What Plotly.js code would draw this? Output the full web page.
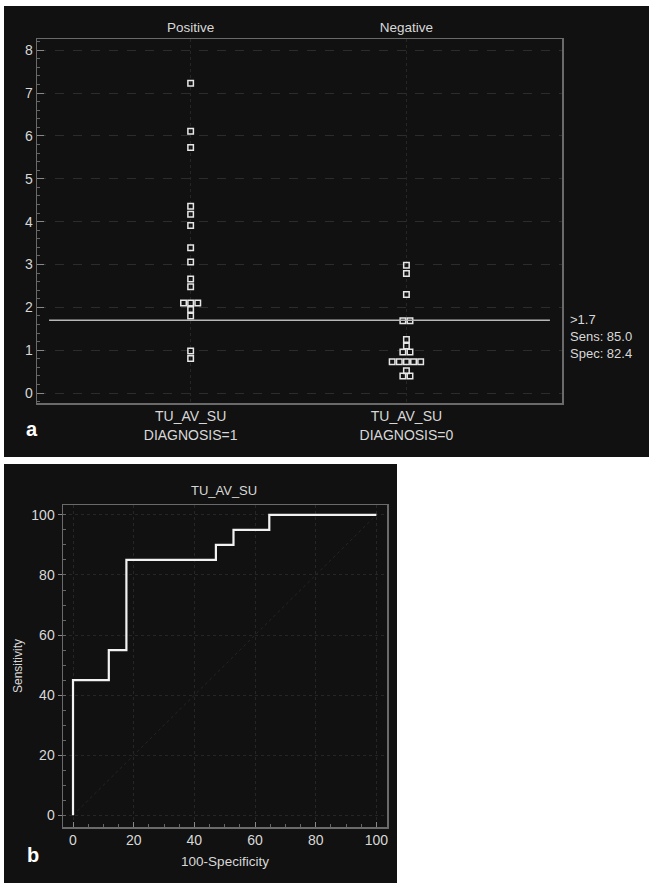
<!DOCTYPE html>
<html>
<head>
<meta charset="utf-8">
<script src="https://cdn.plot.ly/plotly-3.0.1.min.js"></script>
<style>
  html, body { margin: 0; padding: 0; background: #ffffff; width: 649px; height: 883px; overflow: hidden; }
  #dot { position: absolute; left: 4px; top: 6px; width: 645px; height: 451px; }
  #roc { position: absolute; left: 4px; top: 464px; width: 393px; height: 419px; }
</style>
</head>
<body>
<div id="dot"></div>
<div id="roc"></div>
<script>
// ---------- data: panel a (dot plot) ----------
const groupNames = ['Positive', 'Negative'];
const groupAxisLabels = ['TU_AV_SU<br>DIAGNOSIS=1', 'TU_AV_SU<br>DIAGNOSIS=0'];
const positiveValues = [7.23, 6.11, 5.73, 4.36, 4.17, 3.91, 3.39, 3.06, 2.66, 2.48, 2.10, 2.10, 2.10, 1.95, 1.80, 0.98, 0.81];
const negativeValues = [2.98, 2.79, 2.30, 1.69, 1.69, 1.25, 1.10, 0.96, 0.96, 0.73, 0.73, 0.73, 0.73, 0.73, 0.52, 0.40, 0.40];
const yTicks = [0, 1, 2, 3, 4, 5, 6, 7, 8];
const cutoffValue = 1.7;
const cutoffLabel = '>1.7';
const sensitivityAtCutoff = 85.0;
const specificityAtCutoff = 82.4;

// ---------- data: panel b (ROC curve) ----------
const rocTitle = 'TU_AV_SU';
const rocFalsePositive = [0, 0, 11.8, 17.6, 47.1, 52.9, 64.7, 100];   // 100-Specificity
const rocSensitivity   = [0, 45, 55, 85, 90, 95, 100, 100];
const rocTicks = [0, 20, 40, 60, 80, 100];

// ---------- styling ----------
const BG = '#111111';
const FG = '#d8d8d8';
const FRAME = '#6a6a6a';
const GRID = '#2c2c2c';
const FONT = 'Liberation Sans, Arial, sans-serif';
const STEP = 0.033; // horizontal spacing between tied markers (x units)

// spread tied values symmetrically around their group position
function spread(values, center) {
  const counts = {};
  values.forEach(v => { counts[v] = (counts[v] || 0) + 1; });
  const seen = {};
  return values.map(v => {
    const n = counts[v];
    const i = seen[v] || 0;
    seen[v] = i + 1;
    return center + (i - (n - 1) / 2) * STEP;
  });
}

const markerStyle = { symbol: 'square-open', size: 5.5, color: '#e6e6e6', line: { width: 1.5, color: '#e6e6e6' } };

const dotTraces = [
  { x: spread(positiveValues, 0), y: positiveValues, type: 'scatter', mode: 'markers', marker: markerStyle, hoverinfo: 'y', name: groupNames[0] },
  { x: spread(negativeValues, 1), y: negativeValues, type: 'scatter', mode: 'markers', marker: markerStyle, hoverinfo: 'y', name: groupNames[1] },
  { x: [], y: [], xaxis: 'x2', type: 'scatter', mode: 'markers', hoverinfo: 'skip', showlegend: false }
];

const xRange = [-0.712, 1.721];
const dotLayout = {
  width: 645, height: 451,
  paper_bgcolor: BG, plot_bgcolor: BG,
  showlegend: false,
  margin: { l: 33, r: 87, t: 33, b: 54 },
  font: { family: FONT, color: FG, size: 13 },
  xaxis: {
    range: xRange, tickvals: [0, 1], ticktext: groupAxisLabels,
    showline: true, linecolor: FRAME, linewidth: 1.5, mirror: false,
    ticks: '', showgrid: true, gridcolor: '#262626', griddash: 'dot', gridwidth: 1,
    zeroline: false, tickfont: { size: 14, color: FG }, fixedrange: true
  },
  xaxis2: {
    overlaying: 'x', side: 'top', range: xRange, tickvals: [0, 1], ticktext: groupNames,
    showline: true, linecolor: FRAME, linewidth: 1.5, ticks: '', showgrid: false, zeroline: false,
    tickfont: { size: 13.5, color: FG }, fixedrange: true
  },
  yaxis: {
    range: [-0.23, 8.26], tickvals: yTicks,
    showline: true, linecolor: FRAME, linewidth: 1.5, mirror: true,
    ticks: 'inside', ticklen: 7, tickcolor: '#888', tickwidth: 1,
    minor: { dtick: 0.2, ticks: 'inside', ticklen: 3, tickcolor: '#666', showgrid: false },
    showgrid: true, gridcolor: GRID, griddash: 'dash', gridwidth: 1,
    zeroline: false, tickfont: { size: 14, color: FG }, fixedrange: true
  },
  shapes: [
    { type: 'line', xref: 'paper', yref: 'y', x0: 0.023, x1: 0.977, y0: cutoffValue, y1: cutoffValue,
      line: { color: '#b8b8b8', width: 1.5 } }
  ],
  annotations: [
    { xref: 'paper', yref: 'paper', x: 1.011, y: 0.184, xanchor: 'left', yanchor: 'middle', align: 'left',
      showarrow: false, font: { size: 13, color: FG },
      text: cutoffLabel + '<br>Sens: ' + sensitivityAtCutoff.toFixed(1) + '<br>Spec: ' + specificityAtCutoff.toFixed(1) },
    { xref: 'paper', yref: 'paper', x: -0.0095, y: -0.071, xanchor: 'center', yanchor: 'middle',
      showarrow: false, text: '<b>a</b>', font: { size: 20, color: '#ffffff' } }
  ]
};

Plotly.newPlot('dot', dotTraces, dotLayout, { displayModeBar: false, staticPlot: true });

// ---------- ROC ----------
const rocTraces = [
  { x: [0, 100], y: [0, 100], type: 'scatter', mode: 'lines', line: { color: '#242424', width: 1, dash: 'dot' }, hoverinfo: 'skip' },
  { x: rocFalsePositive, y: rocSensitivity, type: 'scatter', mode: 'lines', line: { shape: 'hv', color: '#f2f2f2', width: 2.2 } }
];

const rocLayout = {
  width: 393, height: 419,
  paper_bgcolor: BG, plot_bgcolor: BG,
  showlegend: false,
  margin: { l: 59, r: 10, t: 41, b: 56 },
  font: { family: FONT, color: FG, size: 12 },
  title: { text: rocTitle, x: 0.56, xanchor: 'center', y: 0.936, yanchor: 'middle', font: { size: 13, color: FG } },
  xaxis: {
    range: [-3.3, 103.5], tickvals: rocTicks,
    title: { text: '100-Specificity', font: { size: 13.5, color: FG }, standoff: 9 },
    showline: true, linecolor: FRAME, linewidth: 1.5, mirror: true,
    ticks: 'inside', ticklen: 5, tickcolor: '#888',
    minor: { dtick: 5, ticks: 'inside', ticklen: 3, tickcolor: '#666', showgrid: false },
    showgrid: true, gridcolor: '#262626', griddash: 'dot', zeroline: false,
    tickfont: { size: 14, color: FG }, fixedrange: true
  },
  yaxis: {
    range: [-3.9, 103.3], tickvals: rocTicks,
    title: { text: 'Sensitivity', font: { size: 12, color: FG }, standoff: 6 },
    showline: true, linecolor: FRAME, linewidth: 1.5, mirror: true,
    ticks: 'outside', ticklen: 4, tickcolor: '#888',
    minor: { dtick: 5, ticks: 'inside', ticklen: 3, tickcolor: '#666', showgrid: false },
    showgrid: true, gridcolor: '#262626', griddash: 'dot', zeroline: false,
    tickfont: { size: 14, color: FG }, fixedrange: true
  },
  annotations: [
    { xref: 'paper', yref: 'paper', x: -0.093, y: -0.088, xanchor: 'center', yanchor: 'middle',
      showarrow: false, text: '<b>b</b>', font: { size: 20, color: '#ffffff' } }
  ]
};

Plotly.newPlot('roc', rocTraces, rocLayout, { displayModeBar: false, staticPlot: true });
</script>
</body>
</html>
